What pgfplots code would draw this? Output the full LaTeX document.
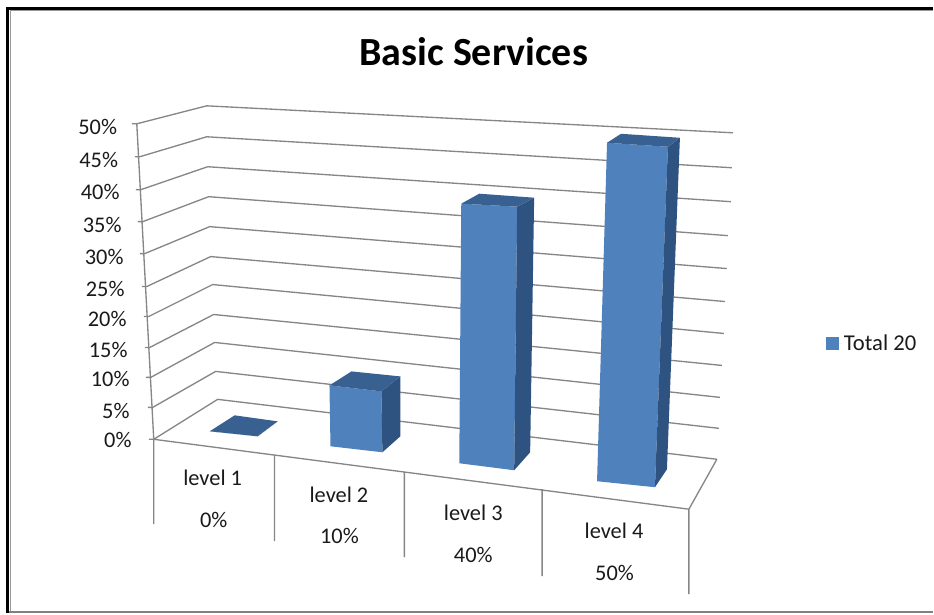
\documentclass[border=0pt]{standalone}
\usepackage{fontspec}
\setmainfont{Carlito}
\usepackage{pgfplots}
\pgfplotsset{compat=1.18}
\definecolor{barfront}{HTML}{4F81BD}
\definecolor{bartop}{HTML}{386192}
\definecolor{barside}{HTML}{2F5380}
\definecolor{gridgray}{HTML}{868686}
\definecolor{labelink}{HTML}{1A1A1A}

% One face of a column: each corner is "x y rx ry h", with (x,y) on the floor,
% (rx,ry) the rise per percentage point and h = 1 on the raised edge.
\newcommand{\face}[6]{%
  \addplot[draw=none,fill=#1,forget plot] table[row sep=\\,
    x expr=\thisrow{x}+\thisrow{h}*#2*\thisrow{rx},
    y expr=\thisrow{y}+\thisrow{h}*#2*\thisrow{ry}]
    {x y rx ry h\\ #3\\ #4\\ #5\\ #6\\} -- cycle;}
% Column with value #1 and floor corners front-left, front-right, back-right, back-left.
\newcommand{\column}[5]{%
  \face{barfront}{#1}{#2 0}{#3 0}{#3 1}{#2 1}
  \face{barside}{#1}{#3 0}{#4 0}{#4 1}{#3 1}
  \face{bartop}{#1}{#2 1}{#3 1}{#4 1}{#5 1}}
\newcommand{\lab}[3]{\node[font=\fontsize{16.8pt}{18pt}\selectfont,text=labelink,inner sep=0pt] at (axis cs:#1,#2) {#3};}
\newcommand{\ticklab}[3]{\node[font=\fontsize{16.8pt}{18pt}\selectfont,text=labelink,inner sep=0pt,anchor=east] at (axis cs:#1,#2) {#3};}

\begin{document}
\begin{tikzpicture}
\begin{axis}[
  scale only axis, width=700.5pt, height=460.5pt,
  xmin=0, xmax=934, ymin=0, ymax=614, y dir=reverse,
  axis lines=none, clip=false, unbounded coords=jump,
  legend style={at={(axis cs:827,344.5)},anchor=west,draw=none,fill=none,inner sep=0pt,
    font=\fontsize{17pt}{18pt}\selectfont,text=labelink,
    legend cell align=left},
  legend image code/.code={\fill[barfront] (0pt,-4.9pt) rectangle (9.8pt,4.9pt);
    \path (0pt,0pt) -- (11.5pt,0pt);},
]
% Full canvas, so the page spans the whole axis rectangle
\addplot[draw=none,forget plot] coordinates {(0,0) (934,614)};
% Chart frame
\addplot[black,line width=2.25pt,forget plot] coordinates {(8,614) (8,8.5) (934,8.5)};
\addplot[gray!80,line width=0.75pt,forget plot] coordinates {(10.3,614) (10.3,10.5) (934,10.5)};
\addplot[gray,line width=1.5pt,forget plot] coordinates {(9,612.5) (934,612.5)};

% Percentage grid on the side and back walls, with its tick stubs
\addplot[gridgray,line width=1pt,forget plot] table {
x y
132 124
137 124
207 106
734 133
nan nan
135 157
140 157
207 137
733 168
nan nan
136 190
141 190
208 167
732 202
nan nan
138 222
143 222
209 197
729 236
nan nan
140 254
145 254
210 227
728 269
nan nan
142 287
147 287
211 257
726 302
nan nan
144 317
149 317
213 285
725 334
nan nan
145 348
150 348
214 315
723 366
nan nan
146 378
151 378
215 343
721 398
nan nan
148 408
153 408
216 372
720 429
nan nan
149 440
154 440
218 400
718 460
};
% Value axis and floor outline with category dividers
\addplot[gridgray,line width=1pt,forget plot] table {
x y
137 124
154 440
nan nan
154 525
154 440
690 510
690 595
nan nan
690 510
718 460
nan nan
275 455
275 542
nan nan
405 472
405 558
nan nan
543 490
543 577
};

% Columns: level 1 = 0, level 2 = 10, level 3 = 40, level 4 = 50
\column{0}{210 432 0 -6}{258 437 0 -6}{278 422 0 -6}{235 416 0 -6}
\column{10}{331 447 -.1 -6.1}{383 453 -.1 -6.1}{401 437 0 -6}{352 432 0 -6}
\column{40}{460 464 .05 -6.5}{515 471 .075 -6.6}{531 453 .1 -6.375}{476 449 .1 -6.375}
\column{50}{598 482 .2 -6.78}{656 488 .26 -6.82}{668 470 .26 -6.64}{610 464 .24 -6.6}

% Legend entry for the series
\addplot[draw=none,fill=barfront] coordinates {(826,344)};
\addlegendentry{Total 20}

% Title
\node[font=\fontsize{30pt}{32pt}\selectfont\bfseries,text=black,inner sep=0pt] at (axis cs:474.5,52) {Basic Services};

% Value axis labels
\ticklab{117.5}{127}{50\%}
\ticklab{118.5}{160}{45\%}
\ticklab{120}{192}{40\%}
\ticklab{122}{225}{35\%}
\ticklab{124}{257}{30\%}
\ticklab{125}{289}{25\%}
\ticklab{127}{319}{20\%}
\ticklab{128}{351}{15\%}
\ticklab{130}{380}{10\%}
\ticklab{130}{412}{5\%}
\ticklab{132}{441}{0\%}

% Category labels with their values
\lab{213}{479}{level 1}
\lab{214}{521}{0\%}
\lab{339.5}{496}{level 2}
\lab{340}{537}{10\%}
\lab{474}{514}{level 3}
\lab{474}{556}{40\%}
\lab{615}{532}{level 4}
\lab{615.5}{574}{50\%}
\end{axis}
\end{tikzpicture}
\end{document}
